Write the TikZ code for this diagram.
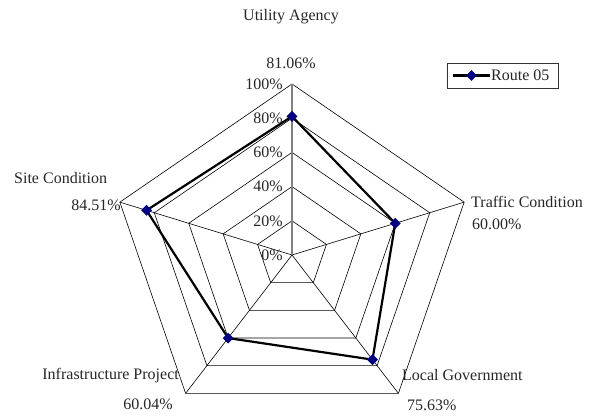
\documentclass[tikz,border=0pt]{standalone}
\usepackage{fontspec}
\setmainfont{Liberation Serif}
\usetikzlibrary{shapes.geometric,calc,backgrounds}
\definecolor{navy}{RGB}{0,0,128}
\begin{document}
\begin{tikzpicture}[x=1pt,y=-1pt,
  grid/.style={draw=black,line width=0.6pt},
  lbl/.style={font=\fontsize{16}{18}\selectfont, inner sep=0pt, text=black!85},
  mk/.style={diamond, fill=navy, minimum size=11pt, inner sep=0pt},
  dataline/.style={line width=2.2pt, black, line join=round}]
\useasboundingbox (0,0) rectangle (596,415);
\def\cx{292}\def\cy{255}\def\rx{181}\def\ry{171}
\coordinate (c) at (\cx,\cy);
\foreach \a [count=\i] in {90,18,-54,-126,162}{
  \coordinate (v\i) at ({\cx+\rx*cos(\a)},{\cy-\ry*sin(\a)});
}
\begin{scope}[on background layer]
  \foreach \r in {0.2,0.4,0.6,0.8,1.0}{
    \draw[grid] ($(c)!\r!(v1)$) -- ($(c)!\r!(v2)$) -- ($(c)!\r!(v3)$) -- ($(c)!\r!(v4)$) -- ($(c)!\r!(v5)$) -- cycle;
  }
  \foreach \i in {2,...,5}{ \draw[grid] (c) -- (v\i); }
  \draw[gray, line width=1.2pt] (c) -- (v1);
\end{scope}
% axis labels
\foreach \r/\t in {0/0\%,0.2/20\%,0.4/40\%,0.6/60\%,0.8/80\%,1.0/100\%}{
  \node[lbl, anchor=east] (ax\r) at ($(c)!\r!(v1) + (-9,0)$) {\t};
}
% data markers
\node[mk] (p1) at ($(c)!0.8106!(v1)$) {};
\node[mk] (p2) at ($(c)!0.6000!(v2)$) {};
\node[mk] (p3) at ($(c)!0.7563!(v3)$) {};
\node[mk] (p4) at ($(c)!0.6004!(v4)$) {};
\node[mk] (p5) at ($(c)!0.8451!(v5)$) {};
\begin{scope}[on background layer]
  \draw[dataline] (p1.center) -- (p2.center) -- (p3.center) -- (p4.center) -- (p5.center) -- cycle;
\end{scope}
% category labels
\node[lbl] (ua) at (291,17) {Utility Agency};
\node[lbl] (uav) at (291,63) {81.06\%};
\node[lbl, anchor=west] (tc) at (471,202) {Traffic Condition};
\node[lbl, anchor=west] (tcv) at (472,224) {60.00\%};
\node[lbl, anchor=west] (lg) at (402,375) {Local Government};
\node[lbl, anchor=west] (lgv) at (407,405) {75.63\%};
\node[lbl, anchor=east] (ip) at (179,376) {Infrastructure Project};
\node[lbl] (ipv) at (148,404) {60.04\%};
\node[lbl, anchor=west] (sc) at (14,178) {Site Condition};
\node[lbl, anchor=east] (scv) at (121,205) {84.51\%};
% legend
\node[draw=black!80, line width=0.8pt, minimum width=111pt, minimum height=25pt, anchor=north west, inner sep=0pt] (leg) at (447,63) {};
\coordinate (la) at (453,75.5);
\coordinate (lb) at (490,75.5);
\draw[dataline] (la) -- (lb);
\node[mk] (lm) at ($(la)!0.5!(lb)$) {};
\node[lbl, anchor=west] (lt) at (491,75.5) {Route 05};
\end{tikzpicture}
\end{document}
